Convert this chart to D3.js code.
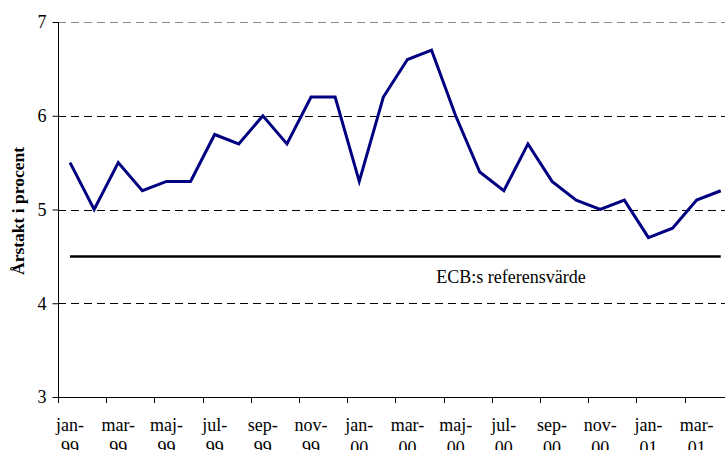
<!DOCTYPE html>
<html>
<head>
<meta charset="utf-8">
<script src="https://cdn.jsdelivr.net/npm/d3@7"></script>
<style>
  html, body { margin: 0; padding: 0; background: #fff; }
  svg { display: block; font-family: "Liberation Serif", "Times New Roman", serif; }
</style>
</head>
<body>
<svg id="chart" width="725" height="450"></svg>
<script>
// Monthly categories, January 1999 – April 2001
const months = ["jan","feb","mar","apr","maj","jun","jul","aug","sep","okt","nov","dec"];
const years = ["99","00","01"];
const categories = [];
years.forEach(y => months.forEach(m => categories.push(m + "-" + y)));
categories.splice(28); // up to apr-01

// Annual rate, percent
const values = [5.5, 5.0, 5.5, 5.2, 5.3, 5.3, 5.8, 5.7, 6.0, 5.7, 6.2, 6.2,
                5.3, 6.2, 6.6, 6.7, 6.0, 5.4, 5.2, 5.7, 5.3, 5.1, 5.0, 5.1,
                4.7, 4.8, 5.1, 5.2];

const referenceValue = 4.5;
const referenceLabel = "ECB:s referensvärde";
const yTicks = [3, 4, 5, 6, 7];
const yTitle = "Årstakt i procent";

const svg = d3.select("#chart");
const plotLeft = 58, plotTop = 22, plotBottom = 397;
const step = 24.1;

const x = d3.scaleBand().domain(categories).range([plotLeft, plotLeft + categories.length * step]).padding(0);
const y = d3.scaleLinear().domain([3, 7]).range([plotBottom, plotTop]);
const cx = c => x(c) + x.bandwidth() / 2;

// Dashed horizontal gridlines
svg.append("g").selectAll("line")
  .data(yTicks.filter(t => t > 3))
  .join("line")
  .attr("x1", plotLeft).attr("x2", 725)
  .attr("y1", d => Math.round(y(d)) + 0.5).attr("y2", d => Math.round(y(d)) + 0.5)
  .attr("stroke", d => d === 7 ? "#8a8a8a" : "#000")
  .attr("stroke-width", 1)
  .attr("stroke-dasharray", "8,5");

// Y axis
const yAxis = d3.axisLeft(y).tickValues(yTicks).tickSize(6).tickPadding(6).tickFormat(d3.format("d"));
const gy = svg.append("g").attr("transform", `translate(${plotLeft + 0.5},0)`).call(yAxis);
gy.select(".domain").attr("stroke", "#000").attr("d", `M0,${y(7)}V${plotBottom}`);
gy.selectAll(".tick line").attr("stroke", "#000");
gy.selectAll(".tick text").attr("font-size", "18px").attr("fill", "#000")
  .attr("font-family", "Liberation Serif, serif");

// X axis: ticks between every second category, labels on two lines
const boundaries = categories.map((c, i) => i).filter(i => i % 2 === 0);
const gx = svg.append("g");
gx.append("line")
  .attr("x1", plotLeft).attr("x2", 725)
  .attr("y1", plotBottom + 0.5).attr("y2", plotBottom + 0.5)
  .attr("stroke", "#000");
gx.selectAll("line.tick")
  .data(boundaries)
  .join("line")
  .attr("class", "tick")
  .attr("x1", i => Math.round(x(categories[i])) + 0.5)
  .attr("x2", i => Math.round(x(categories[i])) + 0.5)
  .attr("y1", plotBottom).attr("y2", plotBottom + 6)
  .attr("stroke", "#000");
const lbl = gx.selectAll("text")
  .data(boundaries)
  .join("text")
  .attr("text-anchor", "middle")
  .attr("font-size", "18px")
  .attr("fill", "#000");
lbl.append("tspan")
  .attr("x", i => cx(categories[i]))
  .attr("y", 431)
  .text(i => categories[i].split("-")[0] + "-");
lbl.append("tspan")
  .attr("x", i => cx(categories[i]))
  .attr("y", 454)
  .text(i => categories[i].split("-")[1]);

// Reference line
svg.append("line")
  .attr("x1", cx(categories[0])).attr("x2", cx(categories[categories.length - 1]))
  .attr("y1", y(referenceValue)).attr("y2", y(referenceValue))
  .attr("stroke", "#000").attr("stroke-width", 2.5);
svg.append("text")
  .attr("x", 511).attr("y", y(referenceValue) + 26.5)
  .attr("text-anchor", "middle")
  .attr("font-size", "18px")
  .text(referenceLabel);

// Series line
const line = d3.line().x((d, i) => cx(categories[i])).y(d => y(d));
svg.append("path")
  .datum(values)
  .attr("d", line)
  .attr("fill", "none")
  .attr("stroke", "#000080")
  .attr("stroke-width", 3)
  .attr("stroke-linejoin", "miter");

// Y axis title
svg.append("text")
  .attr("transform", `translate(24,211) rotate(-90)`)
  .attr("text-anchor", "middle")
  .attr("font-size", "17.5px")
  .attr("font-weight", "bold")
  .text(yTitle);
</script>
</body>
</html>
